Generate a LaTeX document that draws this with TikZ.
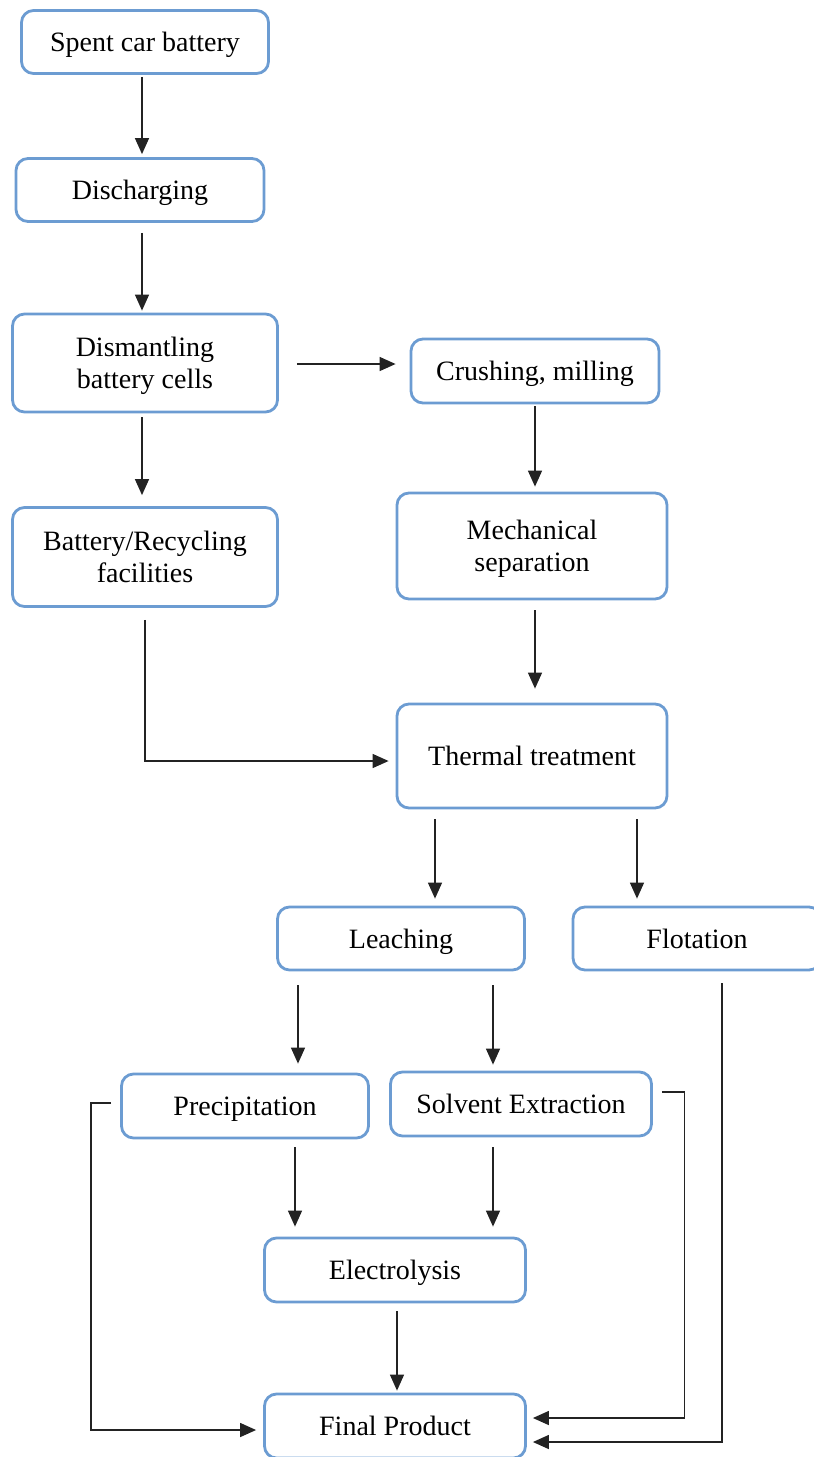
\documentclass[tikz,border=0pt]{standalone}
\usepackage{fontspec}
\setmainfont{Liberation Serif}
\usetikzlibrary{arrows.meta}
\definecolor{boxblue}{RGB}{108,156,210}
\definecolor{linegray}{RGB}{35,35,35}

\begin{document}
\begin{tikzpicture}[
    x=0.5pt, y=-0.5pt,
    >={Triangle[length=8pt,width=7pt]},
    stage/.style={draw=boxblue, line width=1.4pt, rounded corners=6pt, fill=white,
      align=center, font=\fontsize{14}{16}\selectfont, inner sep=0pt,
      minimum width=124pt, minimum height=31.5pt,
      execute at begin node={\rule[-3.5pt]{0pt}{16.5pt}}},
    arr/.style={->, draw=linegray, line width=0.7pt},
  ]

  \useasboundingbox (0,0) rectangle (814,1457);
  \clip (0,0) rectangle (814,1457);

  % left column
  \node[stage, minimum width=123.5pt] (spent) at (145,42) {Spent car battery};
  \node[stage] (disch) at (140,190) {Discharging};
  \node[stage, minimum width=132.5pt, minimum height=49pt] (dism) at (145,363) {\rule{0pt}{13pt}Dismantling\\battery cells};
  \node[stage, minimum width=132.5pt, minimum height=49.5pt] (batt) at (145,557) {\rule{0pt}{13pt}Battery/Recycling\\facilities};

  % right column
  \node[stage, minimum height=32pt] (crush) at (535,371) {Crushing, milling};
  \node[stage, minimum width=135pt, minimum height=53pt] (mech) at (532,546) {\rule{0pt}{13pt}Mechanical\\separation};
  \node[stage, minimum width=135pt, minimum height=52pt] (therm) at (532,756) {Thermal treatment};

  % recovery
  \node[stage, minimum width=123.5pt] (leach) at (401,938.5) {Leaching};
  \node[stage] (flot) at (697,938.5) {Flotation};
  \node[stage, minimum width=123.5pt, minimum height=32pt] (prec) at (245,1106) {Precipitation};
  \node[stage, minimum width=130.5pt, minimum height=32pt] (solv) at (521,1104) {Solvent Extraction};
  \node[stage, minimum width=130.5pt, minimum height=32pt] (elec) at (395,1270) {Electrolysis};
  \node[stage, minimum width=130.5pt, minimum height=32pt] (final) at (395,1426) {Final Product};

  % arrows down the left
  \draw[arr, shorten <=1pt, shorten >=1.5pt] ([xshift=-1.5pt]spent.south) -- ([xshift=-1.5pt]spent.south |- disch.north);
  \draw[arr, shorten <=5pt, shorten >=1pt] ([xshift=1pt]disch.south) -- ([xshift=1pt]disch.south |- dism.north);
  \draw[arr, shorten <=2pt, shorten >=5.5pt] ([xshift=-1.5pt]dism.south) -- ([xshift=-1.5pt]dism.south |- batt.north);
  \draw[arr, shorten <=9pt, shorten >=7pt] ([yshift=-0.5pt]dism.east) -- ([yshift=-0.5pt]dism.east -| crush.west);

  % arrows down the right
  \draw[arr, shorten <=1pt, shorten >=2.5pt] (crush.south) -- (crush.south |- mech.north);
  \draw[arr, shorten <=5pt, shorten >=7pt] ([xshift=1.5pt]mech.south) -- ([xshift=1.5pt]mech.south |- therm.north);
  \draw[arr, shorten <=6pt, shorten >=3.5pt] (batt.south) |- ([yshift=-2.5pt]therm.west);

  % split after treatment
  \draw[arr, shorten <=5pt, shorten >=3.5pt] ([xshift=-48.5pt]therm.south) -- ([xshift=-48.5pt]therm.south |- leach.north);
  \draw[arr, shorten <=5pt, shorten >=3.5pt] ([xshift=52.5pt]therm.south) -- ([xshift=52.5pt]therm.south |- flot.north);
  \draw[arr, shorten <=7pt, shorten >=4.5pt] ([xshift=-51.5pt]leach.south) -- ([xshift=-51.5pt]leach.south |- prec.north);
  \draw[arr, shorten <=7pt, shorten >=3pt] ([xshift=46pt]leach.south) -- ([xshift=46pt]leach.south |- solv.north);
  \draw[arr, shorten <=4pt, shorten >=5pt] ([xshift=25pt]prec.south) -- ([xshift=25pt]prec.south |- elec.north);
  \draw[arr, shorten <=5pt, shorten >=5pt] ([xshift=-14pt]solv.south) -- ([xshift=-14pt]solv.south |- elec.north);
  \draw[arr, shorten <=4pt, shorten >=1pt] ([xshift=1pt]elec.south) -- ([xshift=1pt]elec.south |- final.north);

  % bypasses to the product
  \draw[arr, shorten <=4.5pt, shorten >=3.5pt] ([yshift=1.5pt]prec.west) -- ++(-29,0) |- ([yshift=-2pt]final.west);
  \draw[arr, shorten <=4.5pt, shorten >=3pt] ([yshift=6pt]solv.east) -- ++(31.5,0) |- ([yshift=4pt]final.east);
  \draw[arr, shorten <=6pt, shorten >=3pt] ([xshift=12.5pt]flot.south) |- ([yshift=-8pt]final.east);

\end{tikzpicture}
\end{document}
